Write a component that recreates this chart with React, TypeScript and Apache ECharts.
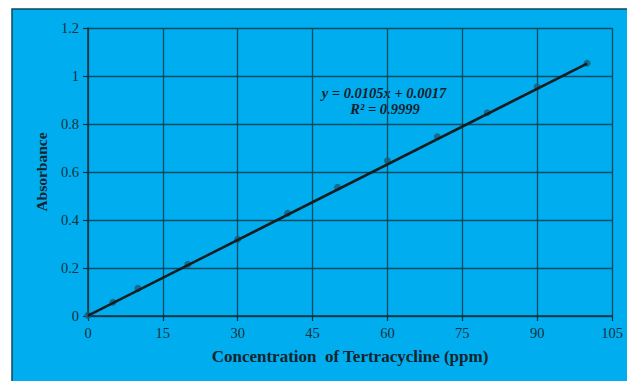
import React, { useEffect, useRef } from "react";
import * as echarts from "echarts";

const concentrations = [0, 5, 10, 20, 30, 40, 50, 60, 70, 80, 90, 100];
const absorbances = [0.003, 0.057, 0.115, 0.215, 0.32, 0.428, 0.536, 0.647, 0.747, 0.847, 0.955, 1.053];
const slope = 0.0105;
const intercept = 0.0017;
const trendX = [0, 100];
const equationLines = ["y = 0.0105x + 0.0017", "R² = 0.9999"];

export default function App() {
  const ref = useRef<HTMLDivElement>(null);
  useEffect(() => {
    if (!ref.current) return;
    const chart = echarts.init(ref.current, undefined, { renderer: "svg" });
    const serif = "Liberation Serif, Times New Roman, serif";
    const gridColor = "#0a4a60";
    const axisColor = "#0a3442";
    const labelColor = "#16303c";
    chart.setOption({
      animation: false,
      backgroundColor: "#ffffff",
      grid: { left: 88, top: 28, right: 15, bottom: 65, containLabel: false },
      graphic: [
        {
          type: "rect",
          z: -10,
          silent: true,
          shape: { x: 12, y: 9, width: 640, height: 400 },
          style: { fill: "#00aeef", stroke: "#0e4a5c", lineWidth: 1.5 },
        },
        {
          type: "text",
          x: 384,
          y: 93,
          style: {
            text: equationLines[0],
            font: "italic bold 14.5px " + serif,
            fill: "#10202a",
            align: "center",
            verticalAlign: "middle",
          },
        },
        {
          type: "text",
          x: 385,
          y: 109,
          style: {
            text: equationLines[1],
            font: "italic bold 14.5px " + serif,
            fill: "#10202a",
            align: "center",
            verticalAlign: "middle",
          },
        },
      ],
      xAxis: {
        type: "value",
        min: 0,
        max: 105,
        interval: 15,
        name: "Concentration  of Tertracycline (ppm)",
        nameLocation: "middle",
        nameGap: 32,
        nameTextStyle: { fontFamily: serif, fontWeight: "bold", fontSize: 17, color: "#10252e" },
        axisLine: { show: true, lineStyle: { color: axisColor, width: 1.5 } },
        axisTick: { show: true, length: 5, lineStyle: { color: axisColor, width: 1.2 } },
        axisLabel: { fontFamily: serif, fontSize: 14.5, color: labelColor, margin: 9 },
        splitLine: { show: true, lineStyle: { color: gridColor, width: 1.3 } },
      },
      yAxis: {
        type: "value",
        min: 0,
        max: 1.2,
        interval: 0.2,
        name: "Absorbance",
        nameLocation: "middle",
        nameGap: 37,
        nameTextStyle: { fontFamily: serif, fontWeight: "bold", fontSize: 15.5, color: "#10252e" },
        axisLine: { show: true, lineStyle: { color: axisColor, width: 1.5 } },
        axisTick: { show: true, length: 5, lineStyle: { color: axisColor, width: 1.2 } },
        axisLabel: { fontFamily: serif, fontSize: 14.5, color: labelColor, margin: 9 },
        splitLine: { show: true, lineStyle: { color: gridColor, width: 1.3 } },
      },
      series: [
        {
          type: "scatter",
          data: concentrations.map((c, i) => [c, absorbances[i]]),
          symbol: "circle",
          symbolSize: 7,
          itemStyle: { color: "#1b5a78" },
          z: 3,
        },
        {
          type: "line",
          data: trendX.map((x) => [x, slope * x + intercept]),
          symbol: "none",
          lineStyle: { color: "#161c20", width: 2.5 },
          z: 4,
        },
      ],
    });
    return () => chart.dispose();
  }, []);
  return (
    <div
      ref={ref}
      style={{ position: "absolute", left: 0, top: 0, width: 627, height: 381 }}
    />
  );
}
